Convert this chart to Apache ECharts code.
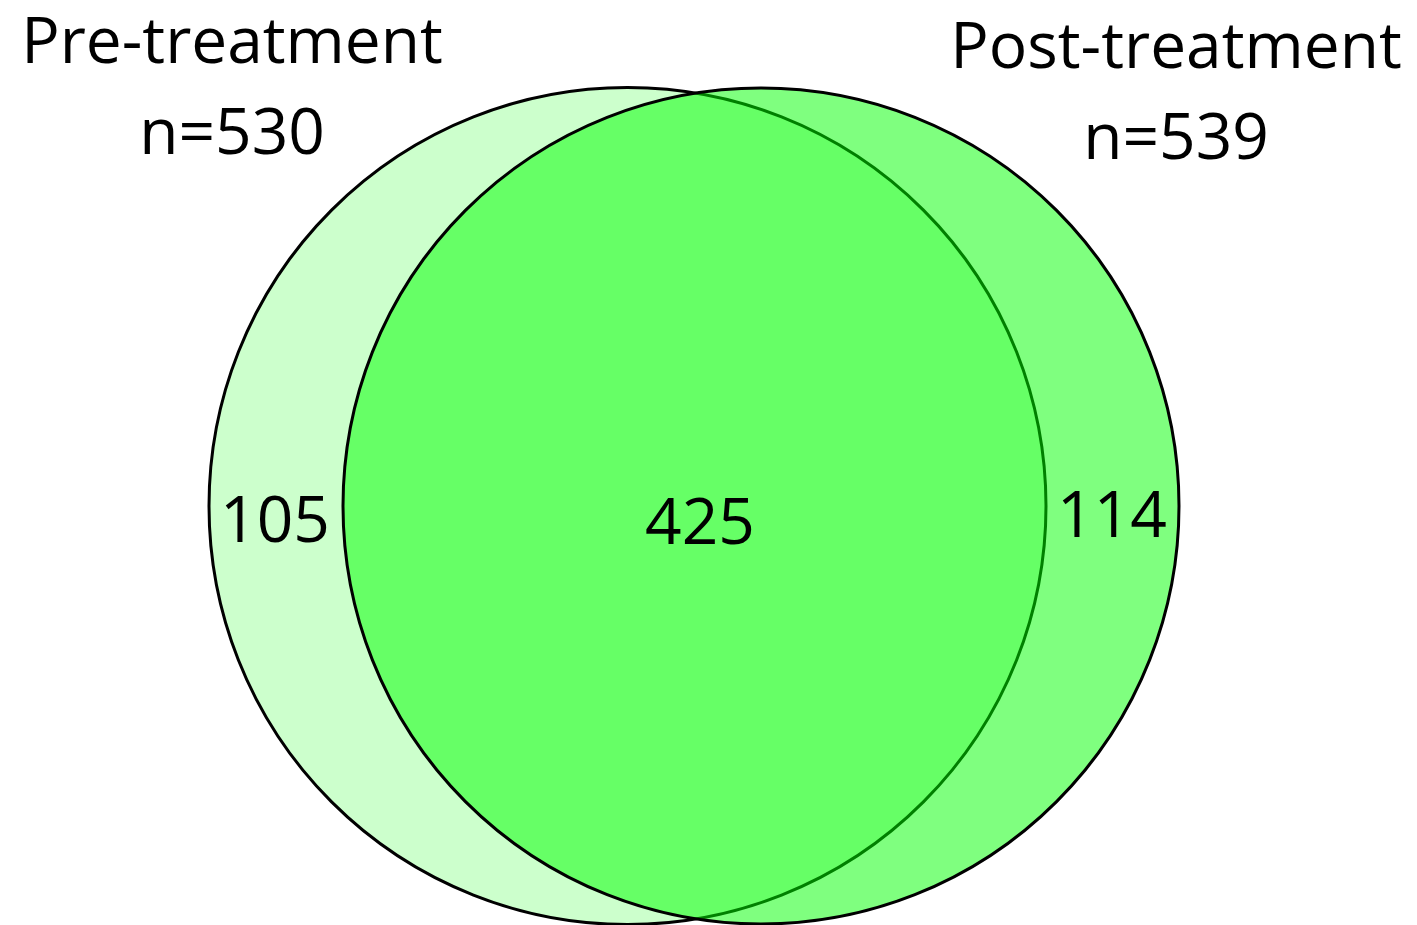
<!DOCTYPE html>
<html>
<head>
<meta charset="utf-8">
<script src="https://cdn.jsdelivr.net/npm/echarts@6/dist/echarts.min.js"></script>
<style>
  html, body { margin: 0; padding: 0; background: #ffffff; }
  #chart { width: 1417px; height: 925px; }
</style>
</head>
<body>
<div id="chart"></div>
<script>
// ---- data ----
var setNames = ['Pre-treatment', 'Post-treatment'];
var setTotals = [530, 539];
var regionNames = ['Pre only', 'Both', 'Post only'];
var regionCounts = [105, 425, 114];

// ---- layout (positions/styles, not data) ----
var FONT = '"Open Sans", "Noto Sans", sans-serif';
var circleLayout = [
  { cx: 627.5, cy: 506, r: 418.5, fill: '#ccffcc' },
  { cx: 761, cy: 506, r: 418, fill: 'rgba(0,255,0,0.5)' }
];
var titleLayout = [
  { x: 232, y1: 45, y2: 136 },
  { x: 1176, y1: 50, y2: 141 }
];
var regionLayout = [
  { x: 275, y: 524 },
  { x: 700, y: 526 },
  { x: 1112, y: 519 }
];

var chart = echarts.init(document.getElementById('chart'), null, { renderer: 'canvas' });

var option = {
  backgroundColor: '#ffffff',
  animation: false,
  series: [
    {
      type: 'custom',
      coordinateSystem: 'none',
      data: setNames.map(function (n, i) { return [i, setTotals[i]]; }),
      renderItem: function (params, api) {
        var i = api.value(0);
        var c = circleLayout[i];
        var t = titleLayout[i];
        return {
          type: 'group',
          children: [
            {
              type: 'circle',
              shape: { cx: c.cx, cy: c.cy, r: c.r },
              style: { fill: c.fill, stroke: '#000000', lineWidth: 3 },
              z2: i
            },
            {
              type: 'text',
              style: {
                text: setNames[i], x: t.x, y: t.y1,
                align: 'center', verticalAlign: 'middle',
                font: '64px ' + FONT, fill: '#000000'
              },
              z2: 10
            },
            {
              type: 'text',
              style: {
                text: 'n=' + api.value(1), x: t.x, y: t.y2,
                align: 'center', verticalAlign: 'middle',
                font: '64px ' + FONT, fill: '#000000'
              },
              z2: 10
            }
          ]
        };
      }
    },
    {
      type: 'custom',
      coordinateSystem: 'none',
      z: 5,
      data: regionCounts.map(function (v, i) { return [i, v]; }),
      renderItem: function (params, api) {
        var i = api.value(0);
        var p = regionLayout[i];
        return {
          type: 'text',
          style: {
            text: String(api.value(1)), x: p.x, y: p.y,
            align: 'center', verticalAlign: 'middle',
            font: '64px ' + FONT, fill: '#000000'
          }
        };
      }
    }
  ]
};
chart.setOption(option);
</script>
</body>
</html>
